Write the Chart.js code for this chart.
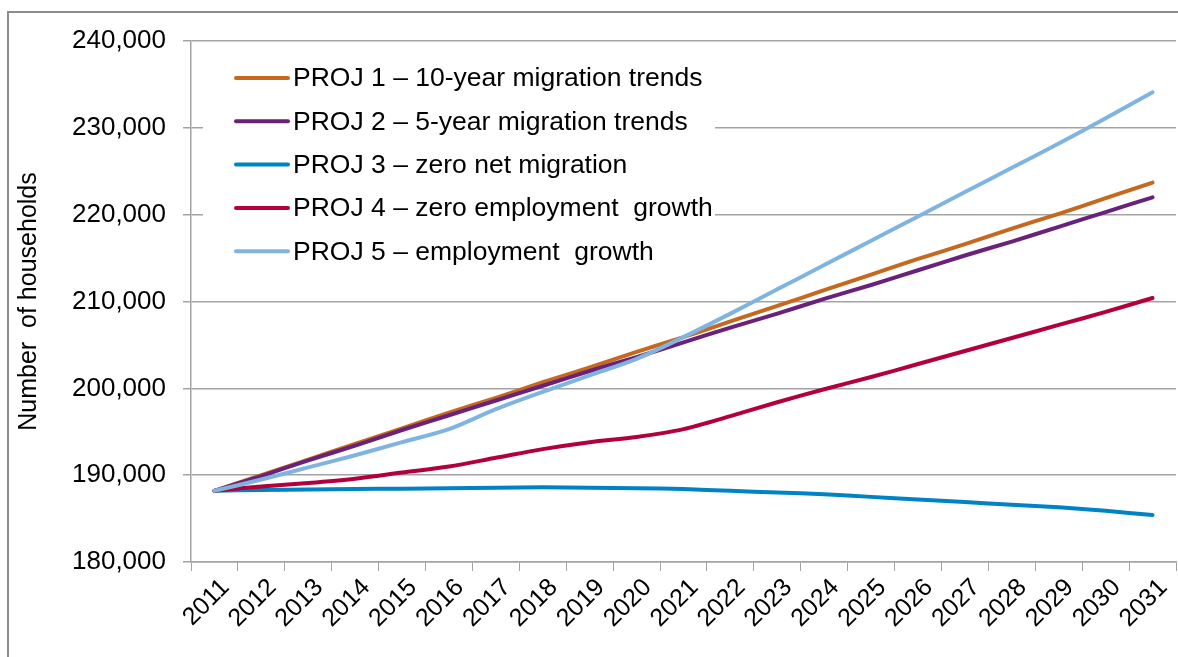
<!DOCTYPE html>
<html>
<head>
<meta charset="utf-8">
<script src="https://cdn.jsdelivr.net/npm/chart.js@4.4.1/dist/chart.umd.min.js"></script>
<style>
    body { margin: 0; background: #fff; }
</style>
</head>
<body>
<canvas id="myChart" width="1178" height="657"></canvas>
<script>
// values (households)
var years = ['2011', '2012', '2013', '2014', '2015', '2016', '2017', '2018', '2019', '2020', '2021',
    '2022', '2023', '2024', '2025', '2026', '2027', '2028', '2029', '2030', '2031'];

var proj1 = [188200, 190000, 191800, 193600, 195400, 197200, 198900, 200700, 202400, 204200, 205900,
    207700, 209500, 211300, 213100, 214900, 216600, 218400, 220100, 221900, 223700];
var proj2 = [188200, 189900, 191700, 193400, 195200, 196900, 198600, 200300, 202000, 203600, 205300,
    207000, 208600, 210300, 211900, 213600, 215300, 216900, 218600, 220300, 222000];
var proj3 = [188200, 188300, 188350, 188400, 188450, 188500, 188550, 188600, 188550, 188500, 188400,
    188200, 188000, 187800, 187500, 187200, 186900, 186600, 186300, 185900, 185400];
var proj4 = [188200, 188700, 189100, 189600, 190300, 191000, 192000, 193000, 193800, 194400, 195300,
    196800, 198400, 199900, 201300, 202800, 204300, 205800, 207300, 208800, 210400];
var proj5 = [188200, 189500, 190900, 192300, 193800, 195300, 197600, 199600, 201500, 203400, 205900,
    208600, 211400, 214200, 217000, 219800, 222600, 225400, 228200, 231100, 234100];

var seriesLabels = [
    'PROJ 1 \u2013 10-year migration trends',
    'PROJ 2 \u2013 5-year migration trends',
    'PROJ 3 \u2013 zero net migration',
    'PROJ 4 \u2013 zero employment  growth',
    'PROJ 5 \u2013 employment  growth'
];
var seriesColors = ['#c4691f', '#69217a', '#0083c4', '#b1003b', '#80b4e0'];

var yMin = 180000, yMax = 240000, yStep = 10000;
var yTitle = 'Number  of households';

var FONT = "'Liberation Sans', Arial, sans-serif";
var GRID = '#a3a3a3';

// outer frame like the original spreadsheet chart
var frame = {
    id: 'frame',
    beforeDraw: function(chart) {
        var ctx = chart.ctx;
        ctx.save();
        ctx.fillStyle = '#fff';
        ctx.fillRect(0, 0, chart.width, chart.height);
        ctx.strokeStyle = '#8c8c8c';
        ctx.lineWidth = 2;
        ctx.strokeRect(8, 12, chart.width + 20, chart.height + 20);
        ctx.restore();
    }
};

// legend sits inside the plot, on a white box over the gridlines
var insideLegend = {
    id: 'insideLegend',
    beforeDatasetsDraw: function(chart) {
        var ctx = chart.ctx;
        var a = chart.chartArea;
        var x0 = a.left + 12;
        ctx.save();
        ctx.fillStyle = '#fff';
        ctx.fillRect(x0, a.top + 10, 512, 222);
        ctx.font = '26.5px ' + FONT;
        ctx.textBaseline = 'middle';
        ctx.fillStyle = '#000';
        ctx.lineCap = 'round';
        ctx.lineWidth = 4;
        for (var i = 0; i < seriesLabels.length; i++) {
            var y = a.top + 37 + i * 43.3;
            ctx.strokeStyle = seriesColors[i];
            ctx.beginPath();
            ctx.moveTo(a.left + 45, y);
            ctx.lineTo(a.left + 97, y);
            ctx.stroke();
            ctx.fillText(seriesLabels[i], a.left + 102, y + 1);
        }
        ctx.restore();
    }
};

function makeSet(i, data) {
    return {
        label: seriesLabels[i],
        data: data,
        borderColor: seriesColors[i],
        backgroundColor: seriesColors[i],
        borderWidth: 4,
        borderCapStyle: 'round',
        pointRadius: 0,
        tension: 0.3,
        order: 5 - i
    };
}

var ctx = document.getElementById('myChart').getContext('2d');
var myChart = new Chart(ctx, {
    type: 'line',
    data: {
        labels: years,
        datasets: [
            makeSet(0, proj1),
            makeSet(1, proj2),
            makeSet(2, proj3),
            makeSet(3, proj4),
            makeSet(4, proj5)
        ]
    },
    options: {
        responsive: false,
        animation: false,
        layout: {
            padding: { left: 8, top: 41, right: 2, bottom: 0 }
        },
        plugins: {
            legend: { display: false },
            tooltip: { enabled: false }
        },
        scales: {
            x: {
                offset: true,
                grid: {
                    offset: true,
                    drawOnChartArea: false,
                    drawTicks: true,
                    tickLength: 9,
                    color: GRID
                },
                border: { display: true, color: GRID, width: 1.5 },
                ticks: {
                    minRotation: 45,
                    maxRotation: 45,
                    autoSkip: false,
                    padding: 2,
                    labelOffset: 11,
                    color: '#000',
                    font: { family: FONT, size: 25 }
                },
                afterFit: function(scale) { scale.height = 95; }
            },
            y: {
                min: yMin,
                max: yMax,
                grid: {
                    tickLength: 8,
                    color: GRID,
                    lineWidth: 1.5
                },
                border: { display: true, color: GRID, width: 1.5 },
                ticks: {
                    stepSize: yStep,
                    padding: 17,
                    color: '#000',
                    font: { family: FONT, size: 26 },
                    callback: function(v) { return v.toLocaleString('en-US'); }
                },
                title: {
                    display: true,
                    text: yTitle,
                    color: '#000',
                    padding: { top: 6, bottom: 0 },
                    font: { family: FONT, size: 25 }
                },
                afterFit: function(scale) { scale.width = 183; }
            }
        }
    },
    plugins: [frame, insideLegend]
});
</script>
</body>
</html>
